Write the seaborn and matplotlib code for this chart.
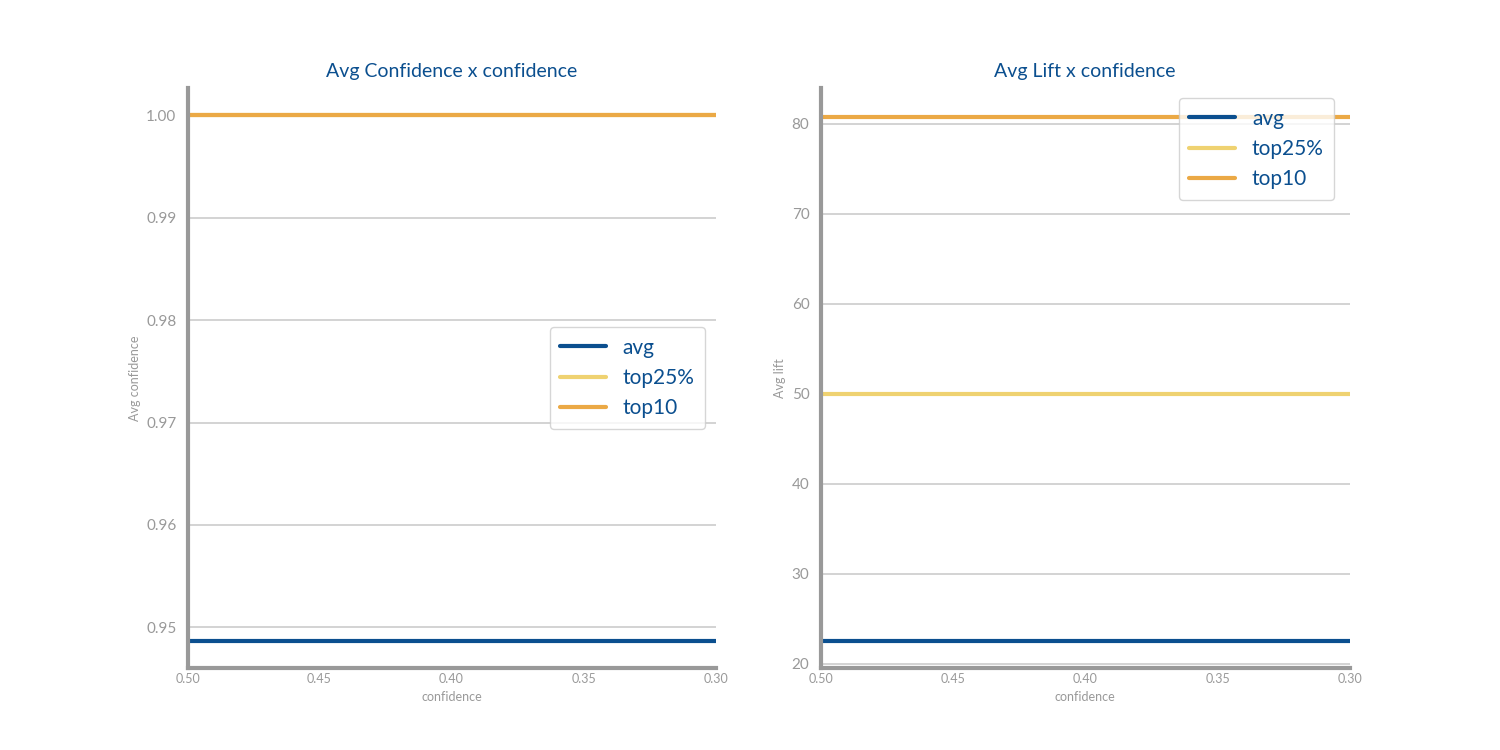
import matplotlib
matplotlib.use("Agg")
import matplotlib.pyplot as plt
import seaborn as sns
import pandas as pd

confidence = [0.50, 0.45, 0.40, 0.35, 0.30]
conf_avg = [0.9487] * 5
conf_top25 = [1.0] * 5
conf_top10 = [1.0] * 5
lift_avg = [22.5] * 5
lift_top25 = [50.0] * 5
lift_top10 = [80.8] * 5

COLORS = {'avg': '#0b4f8f', 'top25%': '#efd271', 'top10': '#eba945'}
TITLE_C = '#0b4f8f'
GREY = '#999999'

sns.set_style('white')
plt.rcParams['font.family'] = ['Lato', 'DejaVu Sans']

fig = plt.figure(figsize=(15, 7.5), dpi=100)
ax1 = fig.add_axes([0.125, 0.109, 0.352, 0.774])
ax2 = fig.add_axes([0.547, 0.109, 0.353, 0.774])


def panel(ax, series, title, ylabel, ylim, yticks, fmt, legend_loc, anchor):
    for name, vals in series:
        df = pd.DataFrame({'confidence': confidence, 'v': vals})
        sns.lineplot(data=df, x='confidence', y='v', ax=ax, color=COLORS[name],
                     lw=3, label=name)
    ax.set_xlim(0.5, 0.3)
    ax.set_ylim(*ylim)
    ax.set_xticks(confidence)
    ax.set_xticklabels([f'{c:.2f}' for c in confidence])
    ax.set_yticks(yticks)
    ax.set_yticklabels([fmt(t) for t in yticks])
    ax.yaxis.grid(True, color='#cccccc', lw=1.2)
    ax.set_axisbelow(True)
    for s in ('top', 'right'):
        ax.spines[s].set_visible(False)
    for s in ('left', 'bottom'):
        ax.spines[s].set_color(GREY)
        ax.spines[s].set_linewidth(3)
    ax.tick_params(axis='x', colors=GREY, labelsize=9, direction='in', length=3, width=1.5)
    ax.tick_params(axis='y', colors=GREY, labelsize=11, length=0, pad=8)
    ax.set_title(title, color=TITLE_C, fontsize=14, pad=8)
    ax.set_xlabel('confidence', color=GREY, fontsize=9)
    ax.set_ylabel(ylabel, color=GREY, fontsize=9)
    leg = ax.legend(loc=legend_loc, bbox_to_anchor=anchor, fontsize=15,
                    frameon=True, handlelength=2.2, borderpad=0.5, labelspacing=0.5)
    for t in leg.get_texts():
        t.set_color(TITLE_C)
    leg.get_frame().set_edgecolor('#cccccc')


panel(ax1, [('avg', conf_avg), ('top25%', conf_top25), ('top10', conf_top10)],
      'Avg Confidence x confidence', 'Avg confidence', (0.946, 1.0027),
      [0.95, 0.96, 0.97, 0.98, 0.99, 1.00], lambda t: f'{t:.2f}',
      'center right', (1.0, 0.5))
panel(ax2, [('avg', lift_avg), ('top25%', lift_top25), ('top10', lift_top10)],
      'Avg Lift x confidence', 'Avg lift', (19.5, 84),
      [20, 30, 40, 50, 60, 70, 80], lambda t: f'{t:d}',
      'upper right', (0.99, 1.0))

fig.savefig('out.png', dpi=100)
